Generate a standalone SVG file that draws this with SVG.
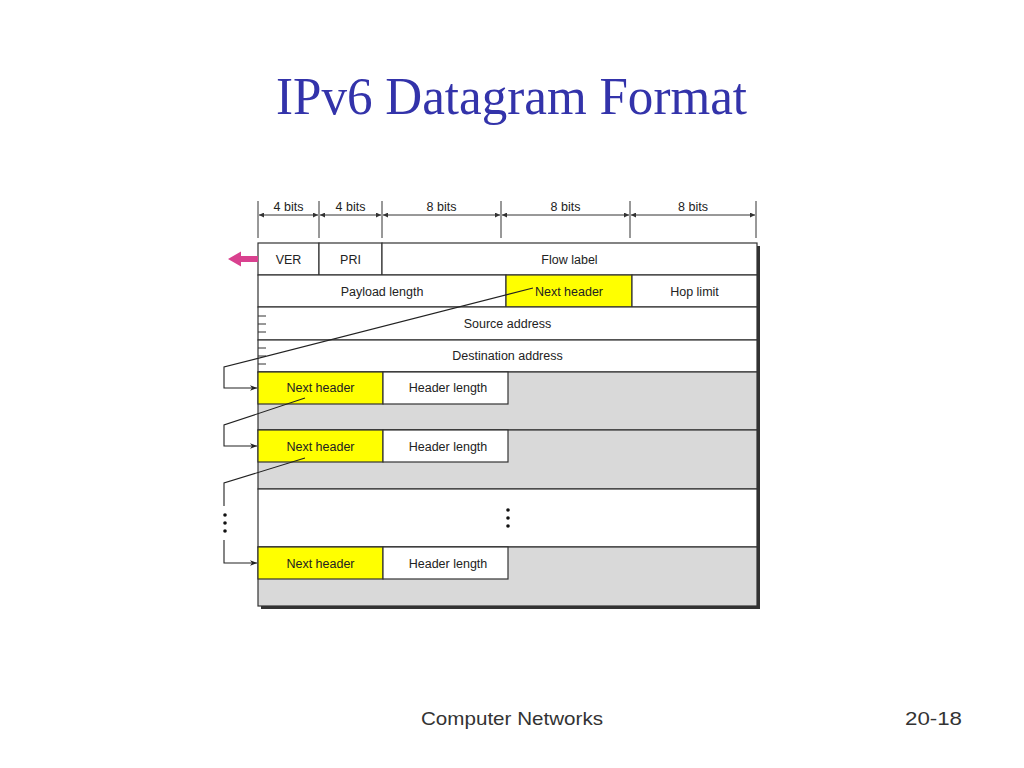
<svg xmlns="http://www.w3.org/2000/svg" width="1024" height="768" viewBox="0 0 1024 768">
<defs>
<style>
.t{font-family:"Liberation Sans",Arial,sans-serif;font-size:12.5px;fill:#222;text-anchor:middle}
.cell{stroke:#333;stroke-width:1.2}
.w{fill:#fff}
.y{fill:#ffff00}
.g{fill:#d9d9d9}
.ln{stroke:#222;stroke-width:1.1;fill:none}
.dim{stroke:#333;stroke-width:1}
.ft{font-family:"Liberation Sans",Arial,sans-serif;font-size:19px;fill:#333}
</style>
<marker id="ah" viewBox="0 0 10 10" refX="10" refY="5" markerWidth="9" markerHeight="7" orient="auto" markerUnits="userSpaceOnUse">
<path d="M0,1 L10,5 L0,9 L3,5 Z" fill="#222"/>
</marker>
<marker id="da" viewBox="0 0 10 10" refX="10" refY="5" markerWidth="6" markerHeight="5" orient="auto-start-reverse" markerUnits="userSpaceOnUse">
<path d="M0,0 L10,5 L0,10 Z" fill="#333"/>
</marker>
</defs>
<rect width="1024" height="768" fill="#fff"/>
<text x="511.5" y="114" font-family="Liberation Serif,'Times New Roman',serif" font-size="53" fill="#3333aa" text-anchor="middle" textLength="471" lengthAdjust="spacingAndGlyphs">IPv6 Datagram Format</text>

<g id="dimensions">
<g class="dim">
<line x1="258" y1="201" x2="258" y2="238"/>
<line x1="319" y1="201" x2="319" y2="238"/>
<line x1="382" y1="201" x2="382" y2="238"/>
<line x1="501" y1="201" x2="501" y2="238"/>
<line x1="630" y1="201" x2="630" y2="238"/>
<line x1="756" y1="201" x2="756" y2="238"/>
<line x1="259" y1="215" x2="318" y2="215" marker-start="url(#da)" marker-end="url(#da)"/>
<line x1="320" y1="215" x2="381" y2="215" marker-start="url(#da)" marker-end="url(#da)"/>
<line x1="383" y1="215" x2="500" y2="215" marker-start="url(#da)" marker-end="url(#da)"/>
<line x1="502" y1="215" x2="629" y2="215" marker-start="url(#da)" marker-end="url(#da)"/>
<line x1="631" y1="215" x2="755" y2="215" marker-start="url(#da)" marker-end="url(#da)"/>
</g>
<text class="t" x="288.5" y="211">4 bits</text>
<text class="t" x="350.5" y="211">4 bits</text>
<text class="t" x="441.5" y="211">8 bits</text>
<text class="t" x="565.5" y="211">8 bits</text>
<text class="t" x="693" y="211">8 bits</text>
</g>

<rect x="261" y="246" width="499" height="363" fill="#333"/>

<g id="row1">
<rect class="cell w" x="258" y="243" width="61" height="32"/>
<text class="t" x="288.5" y="263.5">VER</text>
<rect class="cell w" x="319" y="243" width="63" height="32"/>
<text class="t" x="350.5" y="263.5">PRI</text>
<rect class="cell w" x="382" y="243" width="375" height="32"/>
<text class="t" x="569.5" y="263.5">Flow label</text>
</g>
<g id="row2">
<rect class="cell w" x="258" y="275" width="248" height="32"/>
<text class="t" x="382" y="295.5">Payload length</text>
<rect class="cell y" x="506" y="275" width="126" height="32"/>
<text class="t" x="569" y="295.5">Next header</text>
<rect class="cell w" x="632" y="275" width="125" height="32"/>
<text class="t" x="694.5" y="295.5">Hop limit</text>
</g>
<g id="source">
<rect class="cell w" x="258" y="307" width="499" height="33"/>
<text class="t" x="507.5" y="327.5">Source address</text>
</g>
<g id="destination">
<rect class="cell w" x="258" y="340" width="499" height="32"/>
<text class="t" x="507.5" y="359.5">Destination address</text>
</g>
<g id="ticks" class="dim">
<line x1="258" y1="316" x2="266" y2="316"/>
<line x1="258" y1="324" x2="266" y2="324"/>
<line x1="258" y1="332" x2="266" y2="332"/>
<line x1="258" y1="348" x2="266" y2="348"/>
<line x1="258" y1="356" x2="266" y2="356"/>
<line x1="258" y1="364" x2="266" y2="364"/>
</g>
<g id="ext1">
<rect class="cell g" x="258" y="372" width="499" height="58"/>
<rect class="cell y" x="258" y="372" width="125" height="32"/>
<text class="t" x="320.5" y="392">Next header</text>
<rect class="cell w" x="383" y="372" width="125" height="32"/>
<text class="t" x="448" y="392">Header length</text>
</g>
<g id="ext2">
<rect class="cell g" x="258" y="430" width="499" height="59"/>
<rect class="cell y" x="258" y="430" width="125" height="32"/>
<text class="t" x="320.5" y="450.5">Next header</text>
<rect class="cell w" x="383" y="430" width="125" height="32"/>
<text class="t" x="448" y="450.5">Header length</text>
</g>
<g id="gap">
<rect class="cell w" x="258" y="489" width="499" height="58"/>
<circle cx="508" cy="510" r="1.8" fill="#111"/>
<circle cx="508" cy="518" r="1.8" fill="#111"/>
<circle cx="508" cy="526" r="1.8" fill="#111"/>
</g>
<g id="extn">
<rect class="cell g" x="258" y="547" width="499" height="59"/>
<rect class="cell y" x="258" y="547" width="125" height="32"/>
<text class="t" x="320.5" y="567.5">Next header</text>
<rect class="cell w" x="383" y="547" width="125" height="32"/>
<text class="t" x="448" y="567.5">Header length</text>
</g>

<g id="pointer">
<path d="M258,256 L241,256 L241,251.5 L228,259 L241,266.5 L241,262 L258,262 Z" fill="#d9418f"/>
</g>

<g id="connectors">
<polyline class="ln" points="533,288 224,367 224,388 257,388" marker-end="url(#ah)"/>
<polyline class="ln" points="305,398 224,425 224,446 257,446" marker-end="url(#ah)"/>
<polyline class="ln" points="305,458 224,483 224,506"/>
<polyline class="ln" points="224,540 224,563 257,563" marker-end="url(#ah)"/>
<circle cx="225" cy="515" r="1.8" fill="#111"/>
<circle cx="225" cy="523" r="1.8" fill="#111"/>
<circle cx="225" cy="531" r="1.8" fill="#111"/>
</g>

<text class="ft" x="421" y="725" textLength="182" lengthAdjust="spacingAndGlyphs">Computer Networks</text>
<text class="ft" x="905" y="725" textLength="57" lengthAdjust="spacingAndGlyphs">20-18</text>
</svg>
